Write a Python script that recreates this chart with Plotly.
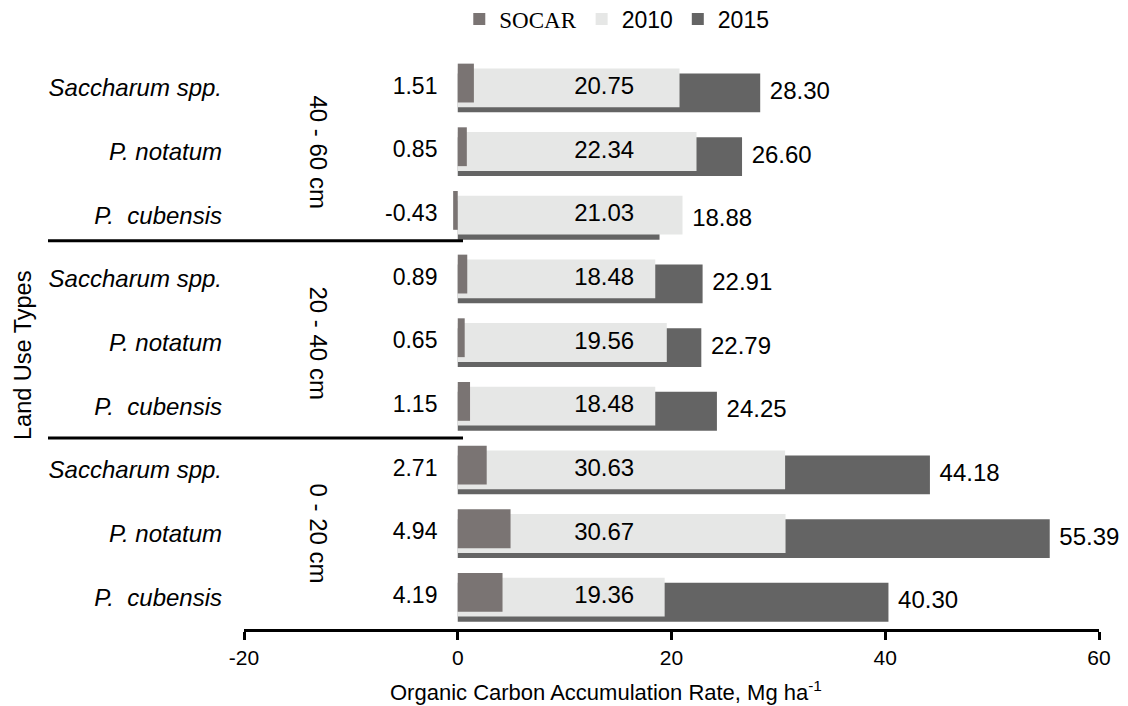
import plotly.graph_objects as go

# ---- data (listed top to bottom as drawn) ----
depths = ["40 - 60 cm", "20 - 40 cm", "0 - 20 cm"]
species = ["Saccharum spp.", "P. notatum", "P.\u00a0 cubensis"]
socar = [1.51, 0.85, -0.43, 0.89, 0.65, 1.15, 2.71, 4.94, 4.19]
v2010 = [20.75, 22.34, 21.03, 18.48, 19.56, 18.48, 30.63, 30.67, 19.36]
v2015 = [28.30, 26.60, 18.88, 22.91, 22.79, 24.25, 44.18, 55.39, 40.30]
x_ticks = [-20, 0, 20, 40, 60]

n = len(socar)
cats = species * len(depths)
ypos = [n - 1 - i for i in range(n)]

BAR_W = 0.61
OFF_SOC = 0.075
OFF_15 = -0.08
FONT = "Liberation Sans, Arial, sans-serif"
C_SOC = "#7a7473"
C_10 = "#e6e7e6"
C_15 = "#646464"

fig = go.Figure()
fig.add_trace(go.Bar(
    y=[y + OFF_15 for y in ypos], x=v2015, orientation="h", width=BAR_W,
    marker=dict(color=C_15, line=dict(width=0)), name="2015", legendrank=3,
    hoverinfo="skip"))
fig.add_trace(go.Bar(
    y=ypos, x=v2010, orientation="h", width=BAR_W,
    marker=dict(color=C_10, line=dict(width=0)), name="2010", legendrank=2,
    hoverinfo="skip"))
fig.add_trace(go.Bar(
    y=[y + OFF_SOC for y in ypos], x=socar, orientation="h", width=BAR_W,
    marker=dict(color=C_SOC, line=dict(width=0)),
    name='<span style="font-family:Liberation Serif, Times New Roman, serif">SOCAR</span>',
    legendrank=1, hoverinfo="skip"))

# value labels
fig.add_trace(go.Scatter(
    x=[-1.9] * n, y=ypos, mode="text", text=[f"{v:.2f}" for v in socar],
    textposition="middle left", textfont=dict(size=23, color="black", family=FONT),
    showlegend=False, hoverinfo="skip"))
fig.add_trace(go.Scatter(
    x=[13.7] * n, y=ypos, mode="text", text=[f"{v:.2f}" for v in v2010],
    textposition="middle center", textfont=dict(size=24, color="black", family=FONT),
    showlegend=False, hoverinfo="skip"))
fig.add_trace(go.Scatter(
    x=[max(a, b) + 0.9 for a, b in zip(v2010, v2015)], y=[y + OFF_15 for y in ypos],
    mode="text", text=[f"{v:.2f}" for v in v2015],
    textposition="middle right", textfont=dict(size=24, color="black", family=FONT),
    showlegend=False, hoverinfo="skip", cliponaxis=False))

L, R, T, B = 244, 29, 56, 77
W, H = 1128, 706
pw = W - L - R
ph = H - T - B

def px_to_paper_x(px):
    return (px - L) / pw

zero_pos = px_to_paper_x(L + pw * (0 - x_ticks[0]) / (x_ticks[-1] - x_ticks[0]))

# depth group labels
for g, d in enumerate(depths):
    mid = ypos[g * 3 + 1]
    fig.add_annotation(x=px_to_paper_x(318), xref="paper", xanchor="center",
                       y=mid, yref="y", yanchor="middle",
                       text=d, textangle=90, showarrow=False,
                       font=dict(size=24, color="black", family=FONT))

# group separators
for yy in [5.6, 2.5]:
    fig.add_shape(type="line", xref="paper", yref="y",
                  x0=px_to_paper_x(48), x1=px_to_paper_x(463), y0=yy, y1=yy,
                  line=dict(color="black", width=3))

fig.add_annotation(x=px_to_paper_x(23), xref="paper", xanchor="center",
                   y=(T + ph - 356) / ph, yref="paper", yanchor="middle",
                   text="Land Use Types", textangle=-90, showarrow=False,
                   font=dict(size=23.5, color="black", family=FONT))
fig.add_annotation(x=px_to_paper_x(606), xref="paper", xanchor="center",
                   y=-(691 - (T + ph)) / ph, yref="paper", yanchor="middle",
                   text="Organic Carbon Accumulation Rate, Mg ha<sup>-1</sup>",
                   showarrow=False, font=dict(size=22, color="black", family=FONT))

fig.update_layout(
    template="none",
    width=W, height=H,
    margin=dict(l=L, r=R, t=T, b=B, autoexpand=False),
    paper_bgcolor="white", plot_bgcolor="white",
    barmode="overlay",
    showlegend=True,
    legend=dict(orientation="h", x=0.436, xanchor="center", y=1 + (T - 19) / ph,
                yanchor="middle", font=dict(size=23, color="black", family=FONT),
                bgcolor="rgba(0,0,0,0)", itemwidth=30),
    xaxis=dict(range=[x_ticks[0], x_ticks[-1]], tickvals=x_ticks,
               ticktext=[str(v) for v in x_ticks],
               showgrid=False, zeroline=False, showline=True, linecolor="black",
               linewidth=3, ticks="outside", ticklen=8, tickwidth=2.5,
               tickcolor="black", tickfont=dict(size=21, color="black", family=FONT),
               automargin=False),
    yaxis=dict(range=[-0.5, n - 0.5], tickvals=ypos,
               ticktext=[f"<i>{c}</i>" for c in cats],
               showgrid=False, zeroline=False, showline=False, ticks="",
               ticklabelstandoff=21,
               tickfont=dict(size=24, color="black", family=FONT), automargin=False),
    yaxis2=dict(range=[-0.5, n - 0.5], overlaying="y", anchor="free",
                position=zero_pos, side="left",
                tickvals=[i - 0.5 for i in range(n + 1)], showticklabels=False,
                showgrid=False, zeroline=False, showline=True, linecolor="black",
                linewidth=3, ticks="outside", ticklen=7, tickwidth=2.5,
                tickcolor="black", automargin=False),
    font=dict(family=FONT, color="black"),
)

fig.write_html("out.html", config={"displayModeBar": False},
               post_script="document.body.style.margin='0';")
